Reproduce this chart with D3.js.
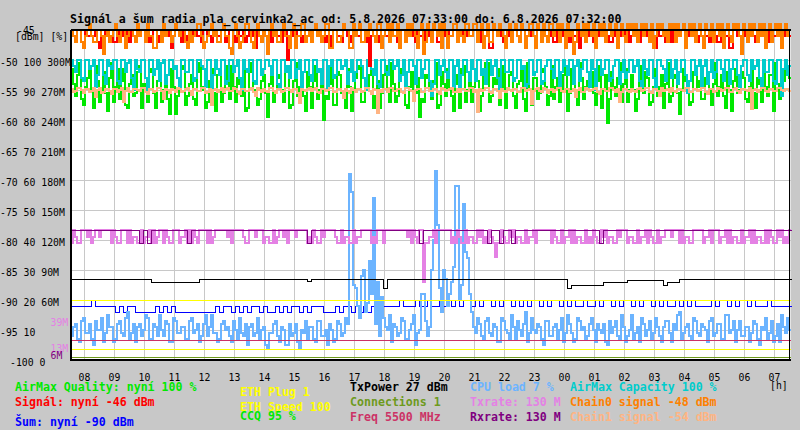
<!DOCTYPE html>
<html><head><meta charset="utf-8">
<script src="https://cdn.jsdelivr.net/npm/d3@7"></script>
<style>
html,body{margin:0;padding:0;background:#c8c8c8;}
svg{display:block;}
text{font-family:"DejaVu Sans Mono",monospace;}
</style></head><body>
<svg id="c" width="800" height="430"></svg>
<script>
// ---------- DATA ----------
const titleText = "Signál a šum radia pla_cervinka2_ac od: 5.8.2026 07:33:00 do: 6.8.2026 07:32:00";
const startTime = "2026-08-05 07:33:00";
const endTime = "2026-08-06 07:32:00";
const fineStep = 4;    // minutes per sample, dense series
const coarseStep = 8;  // minutes per sample, slow series

const hourLabels = ["08","09","10","11","12","13","14","15","16","17","18","19","20","21","22","23","00","01","02","03","04","05","06","07"];
const dbmTicks = [-50,-55,-60,-65,-70,-75,-80,-85,-90,-95,-100];
const pctTicks = [100,90,80,70,60,50,40,30,20,10,0];
const rateTicks = ["300M","270M","240M","210M","180M","150M","120M","90M","60M","",""];
const extraRateTicks = [39,13,6];

// Signal (red) dBm, 4-min samples
const signal = [
-45,-46,-46,-45,-45,-47,-47,-45,-46,-46,-45,-45,-46,-47,-48,-45,-45,-46,-46,-45,
-45,-47,-47,-45,-46,-46,-45,-45,-46,-47,-45,-46,-47,-45,-46,-45,-45,-46,-46,-47,
-46,-45,-45,-46,-47,-45,-45,-46,-46,-45,-48,-46,-45,-45,-46,-47,-45,-46,-47,-45,
-46,-45,-45,-46,-46,-47,-45,-45,-46,-46,-47,-45,-45,-46,-46,-45,-45,-47,-46,-45,
-45,-46,-47,-45,-46,-46,-45,-47,-46,-45,-45,-46,-48,-45,-46,-47,-45,-46,-46,-45,
-47,-45,-45,-46,-46,-47,-45,-45,-50,-46,-45,-46,-46,-45,-45,-47,-46,-45,-45,-46,
-47,-45,-45,-46,-46,-45,-45,-47,-46,-46,-48,-45,-45,-46,-46,-47,-45,-45,-46,-46,
-47,-45,-45,-46,-46,-45,-45,-47,-46,-51,-46,-45,-45,-46,-47,-45,-45,-46,-46,-45,
-45,-46,-46,-47,-47,-45,-45,-46,-46,-45,-45,-46,-47,-45,-46,-46,-48,-45,-45,-46,
-46,-45,-45,-47,-47,-46,-46,-45,-45,-46,-46,-45,-45,-47,-46,-45,-46,-46,-45,-46,
-46,-45,-45,-47,-47,-45,-46,-46,-45,-48,-48,-45,-45,-46,-46,-45,-47,-46,-45,-46,
-47,-45,-45,-46,-46,-45,-45,-47,-46,-45,-46,-46,-48,-45,-45,-46,-46,-45,-45,-46,
-45,-47,-47,-45,-46,-46,-45,-45,-46,-47,-45,-46,-46,-45,-48,-45,-45,-46,-46,-45,
-45,-47,-46,-45,-46,-46,-45,-45,-46,-47,-47,-45,-46,-45,-45,-46,-46,-45,-45,-47,
-46,-45,-45,-47,-47,-45,-46,-46,-45,-45,-46,-48,-48,-45,-46,-46,-45,-47,-46,-45,
-47,-45,-45,-46,-46,-45,-45,-47,-46,-45,-46,-46,-45,-47,-46,-45,-45,-46,-46,-47,
-45,-46,-46,-47,-47,-45,-45,-46,-46,-48,-48,-45,-45,-46,-46,-47,-45,-46,-46,-45,
-45,-46,-47,-45,-46,-46,-45,-47,-47,-45,-45,-46,-46,-45,-46,-47,-45,-46,-46,-46];

// Chain0 signal (orange) dBm, 4-min samples
const chain0 = [
-45,-46,-47,-45,-45,-47,-48,-46,-45,-44,-46,-47,-47,-45,-45,-46,-49,-46,-45,-47,
-46,-45,-44,-46,-47,-45,-45,-48,-46,-45,-45,-46,-47,-44,-46,-45,-45,-47,-44,-46,
-46,-48,-48,-45,-45,-47,-44,-46,-45,-45,-47,-46,-44,-45,-46,-45,-45,-47,-48,-45,
-47,-46,-45,-44,-44,-46,-48,-47,-46,-45,-44,-46,-45,-47,-47,-45,-44,-46,-46,-48,
-49,-45,-44,-46,-48,-47,-46,-44,-44,-45,-47,-48,-45,-44,-46,-47,-45,-46,-49,-45,
-44,-46,-45,-47,-47,-45,-44,-46,-46,-48,-45,-44,-48,-46,-46,-44,-44,-47,-46,-45,
-47,-45,-44,-46,-45,-47,-46,-44,-44,-48,-48,-45,-45,-47,-47,-46,-44,-45,-45,-48,
-48,-44,-46,-45,-44,-47,-47,-45,-46,-44,-45,-46,-47,-44,-44,-48,-46,-45,-44,-47,
-44,-46,-46,-44,-48,-45,-45,-47,-44,-46,-44,-45,-46,-48,-45,-44,-49,-47,-44,-45,
-47,-44,-45,-46,-44,-48,-44,-45,-48,-46,-46,-44,-44,-47,-45,-46,-47,-44,-44,-46,
-46,-44,-44,-47,-45,-44,-48,-46,-44,-47,-47,-44,-45,-46,-44,-45,-46,-48,-45,-44,
-47,-45,-44,-46,-47,-44,-45,-48,-46,-44,-44,-46,-48,-44,-45,-47,-44,-46,-47,-44,
-44,-46,-45,-44,-47,-44,-45,-48,-44,-46,-45,-49,-47,-44,-45,-46,-44,-47,-44,-45,
-46,-44,-48,-45,-44,-46,-44,-47,-45,-44,-46,-45,-44,-48,-45,-44,-46,-47,-44,-45,
-44,-46,-44,-47,-45,-44,-46,-44,-45,-47,-44,-48,-46,-44,-45,-44,-46,-45,-47,-44,
-45,-44,-47,-44,-46,-45,-44,-48,-45,-44,-46,-44,-47,-45,-44,-46,-48,-44,-45,-46,
-44,-47,-45,-44,-46,-44,-48,-45,-44,-46,-47,-44,-45,-44,-46,-49,-44,-45,-47,-44,
-46,-44,-45,-47,-44,-46,-44,-48,-45,-44,-47,-45,-44,-46,-44,-48,-45,-44,-46,-45];

// Chain1 signal (peach) dBm, 4-min samples
const chain1 = [
-54.8,-55.3,-55.2,-54.7,-54.6,-55.0,-55.5,-54.8,-54.9,-55.4,-55.1,-54.6,-56.2,-55.0,-54.7,-55.5,-55.3,-54.9,-54.8,-55.2,
-55.6,-54.8,-54.9,-55.3,-55.0,-54.7,-57.0,-55.1,-54.7,-55.4,-55.4,-54.9,-54.8,-55.0,-55.2,-54.6,-54.6,-55.3,-55.7,-54.9,
-54.9,-55.4,-55.1,-54.7,-54.7,-55.2,-56.5,-54.9,-55.0,-55.5,-54.8,-55.0,-55.4,-54.6,-54.9,-55.3,-55.2,-54.8,-54.6,-55.1,
-55.8,-54.9,-54.9,-55.2,-55.1,-54.7,-54.7,-55.5,-55.3,-54.8,-57.5,-55.0,-54.8,-55.3,-55.0,-54.6,-55.4,-54.9,-54.7,-55.2,
-55.1,-54.7,-54.9,-55.4,-55.6,-54.8,-54.8,-55.2,-55.2,-54.9,-54.6,-55.3,-56.0,-54.7,-55.0,-55.4,-54.8,-55.1,-55.3,-54.6,
-54.7,-55.2,-55.5,-54.9,-54.9,-55.3,-55.1,-54.7,-54.6,-55.0,-55.4,-54.8,-54.8,-55.5,-57.2,-54.9,-55.0,-55.2,-54.9,-54.7,
-55.2,-54.8,-54.7,-55.3,-55.5,-54.9,-54.9,-55.1,-55.0,-54.6,-54.6,-55.4,-55.3,-54.8,-54.8,-55.2,-56.3,-54.9,-55.1,-55.5,
-54.7,-55.0,-55.4,-54.8,-54.9,-55.3,-55.2,-54.7,-54.6,-55.1,-55.6,-54.9,-55.0,-58.8,-55.0,-55.4,-54.8,-54.9,-55.3,-54.7,
-54.7,-55.2,-55.1,-54.8,-54.9,-55.4,-55.5,-54.7,-54.6,-55.0,-55.1,-56.8,-55.0,-54.9,-54.8,-55.3,-55.3,-54.6,-54.7,-55.2,
-55.2,-54.8,-54.9,-55.4,-55.6,-54.7,-54.8,-55.1,-55.0,-54.9,-54.6,-55.3,-55.4,-54.8,-55.4,-54.9,-54.9,-55.2,-55.1,-54.7,
-54.7,-55.3,-55.0,-58.6,-54.8,-55.2,-55.0,-54.7,-54.6,-55.4,-55.5,-54.9,-54.9,-55.1,-56.4,-54.8,-55.1,-55.3,-54.7,-55.0,
-55.2,-54.9,-54.8,-55.3,-55.4,-54.7,-54.6,-55.1,-55.0,-54.8,-57.3,-55.2,-54.9,-54.7,-55.2,-55.4,-54.7,-54.9,-55.5,-55.0,
-54.8,-55.3,-55.0,-54.7,-54.6,-55.2,-55.3,-54.9,-54.9,-55.4,-55.1,-54.8,-56.1,-55.0,-54.7,-55.3,-55.4,-54.6,-54.8,-55.1,
-55.0,-54.8,-54.6,-55.4,-55.6,-54.9,-54.9,-55.2,-55.2,-54.7,-54.7,-55.0,-55.3,-54.8,-57.0,-55.3,-54.8,-54.9,-55.1,-55.4,
-54.9,-55.2,-55.4,-54.8,-54.7,-55.1,-55.0,-54.6,-54.6,-55.3,-55.5,-54.9,-54.8,-55.2,-56.0,-54.7,-55.2,-55.0,-54.9,-55.4,
-54.7,-55.1,-55.3,-54.8,-54.8,-55.0,-55.1,-54.6,-54.6,-55.3,-55.4,-54.9,-54.9,-55.2,-55.0,-54.7,-54.7,-55.4,-55.6,-54.8,
-54.8,-55.3,-55.2,-54.7,-54.9,-55.1,-55.0,-54.6,-54.6,-55.4,-55.3,-54.8,-54.7,-55.2,-55.5,-54.9,-54.9,-55.0,-55.1,-54.7,
-58.2,-55.0,-54.8,-55.3,-55.0,-54.7,-54.6,-55.1,-55.4,-54.9,-54.8,-55.2,-55.1,-54.6,-54.7,-55.0,-55.2,-54.8,-54.9,-55.1];

// AirMax Quality (green) %, 4-min samples
const quality = [
97,92,88,95,99,87,85,91,94,98,90,84,98,93,86,90,96,89,83,94,
99,86,91,97,87,93,97,85,84,92,95,88,89,96,98,84,92,90,86,97,
96,89,84,93,99,86,90,95,87,82,97,91,82,88,94,97,98,85,88,92,
95,87,85,96,99,90,91,84,86,93,97,89,83,95,96,86,89,98,93,87,
98,91,86,94,92,88,97,83,84,96,99,90,90,85,87,93,95,89,81,92,
98,86,89,95,94,90,86,97,97,84,85,93,99,88,91,96,88,83,96,91,
84,93,98,87,90,95,80,88,87,92,99,85,85,96,95,89,89,84,97,91,
83,90,94,97,98,86,86,92,91,95,97,84,88,93,84,89,95,98,90,86,
99,92,86,88,93,97,97,85,84,91,96,89,89,94,81,87,86,95,94,90,
87,93,99,84,85,96,92,88,97,90,88,83,95,92,84,97,98,86,90,94,
86,91,97,93,83,88,95,99,99,86,88,94,92,97,85,90,98,84,90,95,
96,88,84,92,93,97,87,83,99,90,85,94,94,87,89,96,97,91,85,88,
98,87,91,94,86,90,95,98,83,89,97,92,89,85,99,94,87,91,93,96,
96,89,85,93,98,84,90,95,79,87,96,91,88,94,99,86,92,97,86,90,
95,90,83,87,98,93,89,96,94,85,86,91,97,88,91,95,84,92,99,86,
88,94,95,89,82,90,97,93,90,85,86,96,98,91,93,87,87,94,96,90,
85,92,99,88,91,95,88,84,96,90,83,93,97,89,90,96,94,87,86,91,
98,89,84,94,92,86,97,91,88,95,95,83,99,92,87,90,93,97,96,94];

// AirMax Capacity (cyan) %, 4-min samples
const capacity = [
100,98,96,100,100,94,93,100,100,97,98,100,91,95,100,100,95,92,100,98,
97,100,100,93,92,100,100,96,99,100,94,90,100,97,96,100,100,94,90,100,
100,95,97,100,93,99,100,92,95,100,100,97,98,94,91,100,100,96,96,100,
100,93,94,100,100,98,97,91,100,100,89,95,100,97,95,100,100,92,93,100,
100,96,98,100,94,90,100,97,96,100,100,93,92,100,100,95,97,100,100,98,
95,100,100,92,91,100,100,96,98,94,100,100,94,97,100,91,96,100,100,95,
93,100,100,96,97,92,100,100,90,98,100,94,95,100,100,97,98,100,92,96,
100,93,96,100,100,98,94,90,100,100,97,95,100,92,91,100,100,96,95,100,
100,97,98,100,93,95,100,91,96,100,100,98,92,100,100,94,97,100,100,93,
88,92,100,100,95,98,100,96,94,100,100,91,98,100,91,95,100,100,96,93,
100,97,93,100,100,95,97,92,100,100,95,98,100,94,90,100,100,96,96,100,
100,93,94,100,100,97,98,91,92,100,100,95,96,100,100,92,93,98,100,100,
97,94,100,100,91,96,100,98,95,100,100,92,98,100,93,97,100,100,96,91,
100,97,90,100,100,95,97,100,100,93,94,98,100,100,92,96,100,94,96,100,
100,96,98,100,93,91,100,97,95,100,100,94,91,100,100,98,97,93,100,100,
94,97,100,92,96,100,100,95,89,93,100,100,95,98,100,91,98,100,92,96,
100,94,96,100,100,97,93,100,100,92,97,100,100,95,91,98,100,100,95,93,
100,97,98,100,94,91,100,96,96,100,100,93,92,100,100,88,97,100,95,98];

// CPU load (light blue) %, 4-min samples
const cpu = [
8,11,12,7,6,13,14,9,9,12,7,5,13,10,10,14,6,9,15,11,
11,6,7,12,13,9,8,14,16,7,9,12,6,11,12,8,10,15,14,7,
7,12,11,8,15,10,8,13,12,6,6,14,13,9,9,11,11,7,7,13,
14,9,10,12,6,8,12,15,8,11,15,9,9,6,7,12,13,10,11,8,
6,13,10,7,14,9,8,12,5,11,12,8,9,14,7,10,11,5,4,9,
9,12,13,8,6,11,10,5,5,12,8,9,12,6,4,10,9,13,7,11,
11,7,6,13,13,8,8,10,5,12,10,6,7,13,12,8,9,14,12,62,
56,25,24,18,14,28,30,16,19,33,22,54,12,26,8,21,14,11,10,15,
6,12,11,8,9,14,13,7,7,10,12,15,5,9,10,22,22,13,8,11,
30,40,63,45,24,16,30,27,18,22,26,31,58,58,20,25,52,36,34,22,
16,11,9,14,12,8,7,13,14,9,8,12,11,6,6,14,13,10,9,7,
15,11,7,13,10,8,12,16,6,9,14,10,9,12,11,7,5,13,13,8,
8,11,12,7,10,14,6,9,15,12,9,6,7,14,13,10,11,7,8,12,
14,10,6,12,10,9,12,6,5,13,9,11,13,8,7,15,11,6,8,10,
15,7,9,11,6,14,12,8,10,13,7,9,14,11,8,6,11,13,13,9,
6,12,10,15,16,7,9,11,12,8,7,14,13,9,8,12,11,10,6,13,
14,8,9,12,12,7,7,15,15,9,10,13,6,10,13,8,8,11,11,6,
9,13,12,7,5,11,10,14,7,9,13,6,8,12,6,15,11,9,14,10];

// Txrate (violet) Mbit, 4-min samples
const txrate = [
117,130,123,117,117,130,130,130,123,130,117,123,130,130,123,130,130,130,130,130,
117,130,123,117,117,130,130,130,117,130,117,123,123,117,117,130,117,123,123,130,
117,130,117,123,130,130,117,130,123,117,117,130,130,130,117,123,123,130,117,130,
117,130,123,117,130,130,130,130,117,130,117,123,130,130,130,130,130,130,123,130,
117,130,130,130,130,130,123,117,117,130,130,130,123,130,130,130,117,123,123,117,
117,130,117,123,130,130,123,130,117,130,130,130,123,130,130,130,130,130,117,123,
117,130,123,117,117,130,123,130,130,130,130,130,123,117,117,130,117,123,123,117,
117,130,117,123,123,130,130,130,130,130,117,123,117,130,130,130,117,130,130,130,
130,130,130,130,130,130,130,130,123,130,117,130,123,117,130,130,78,117,117,123,
123,130,117,130,130,130,130,130,130,130,117,123,117,130,123,117,117,130,117,123,
123,117,117,130,123,130,117,123,117,130,123,117,103,117,117,130,123,117,117,130,
123,130,117,123,123,117,117,130,117,123,123,130,117,130,130,130,130,130,130,130,
117,130,123,117,117,130,117,123,123,130,117,130,117,123,123,117,117,130,117,123,
117,130,123,117,117,130,123,130,117,123,123,117,117,130,123,130,130,130,117,123,
123,117,117,130,117,123,123,130,117,130,123,117,117,130,117,123,123,130,130,130,
123,130,130,130,117,130,117,123,123,117,117,130,130,130,130,130,117,123,123,130,
117,130,130,130,117,123,123,130,117,130,117,123,123,117,117,130,117,123,123,130,
117,130,117,123,123,117,117,130,117,130,123,117,117,130,123,130,117,123,117,130];

// Noise (blue) dBm, 8-min samples
const noise = [
-91,-91,-91,-91,-91,-90,-91,-91,-91,-91,-91,-92,-91,-92,-91,-91,-92,-92,-92,-92,
-92,-91,-92,-91,-92,-91,-92,-92,-92,-92,-92,-92,-92,-92,-92,-92,-91,-92,-91,-91,
-92,-91,-92,-91,-92,-91,-91,-92,-91,-92,-92,-91,-92,-91,-92,-91,-91,-92,-91,-92,
-91,-91,-91,-92,-92,-92,-91,-92,-91,-91,-92,-91,-92,-91,-92,-91,-92,-91,-91,-91,
-91,-91,-90,-91,-91,-91,-90,-91,-91,-90,-91,-91,-90,-91,-90,-91,-90,-91,-90,-90,
-91,-90,-91,-90,-90,-91,-90,-91,-90,-90,-91,-90,-91,-90,-91,-90,-90,-91,-90,-91,
-90,-90,-91,-90,-91,-90,-91,-91,-90,-91,-91,-90,-91,-90,-90,-91,-90,-91,-90,-90,
-91,-90,-91,-90,-90,-91,-90,-91,-90,-91,-91,-90,-91,-90,-91,-90,-91,-91,-91,-91,
-90,-91,-90,-90,-91,-90,-91,-90,-90,-91,-90,-91,-91,-91,-90,-91,-91,-91,-91,-91];

// Rxrate (purple) Mbit, 8-min samples
const rxrate = [
130,130,130,130,130,130,130,130,130,130,130,130,130,130,130,130,130,117,130,117,
130,130,130,130,130,130,130,130,130,117,130,130,130,130,130,130,130,130,130,130,
130,130,130,130,130,130,130,130,130,130,130,130,130,130,130,130,130,130,130,117,
130,130,130,130,130,130,130,130,130,130,130,130,130,130,130,130,130,130,130,130,
130,130,130,130,130,130,130,117,130,130,130,130,130,130,130,130,130,130,130,130,
130,130,130,130,117,130,130,117,130,130,117,130,130,130,130,130,130,130,130,130,
130,130,130,130,130,130,130,130,130,130,130,130,117,130,130,130,130,130,130,130,
130,130,130,130,130,130,130,130,130,130,130,130,130,130,130,130,130,130,130,130,
130,130,130,130,130,130,130,130,130,130,130,130,130,130,130,130,130,130,130,130];

// TxPower (black) dBm, 8-min samples, drawn on the % scale
const txpower = [
27,27,27,27,27,27,27,27,27,27,27,27,27,27,27,27,27,27,27,27,
26,26,26,26,26,26,26,26,26,26,26,26,27,27,27,27,27,27,27,27,
27,27,27,27,27,27,27,27,27,27,27,27,27,27,27,27,27,27,27,26.5,
27,27,27,27,27,27,27,27,27,27,27,27,27,27,27,27,27,27,24,27,
27,27,27,27,27,27,27,27,27,27,27,27,27,27,27,27,27,27,27,27,
27,27,27,27,27,27,27,27,27,27,27,27,27,27,27,27,27,27,27,27,
27,27,27,27,24,25,25,25,25,25,25,25,25,26,26,26,26,26,26,26.6,
26.6,26.6,26.6,26.6,26.6,26.6,26.6,26.6,25,26,26,26,27,27,27,27,27,27,27,27,
27,27,27,27,27,27,27,27,27,27,27,27,27,27,27,27,27,27,27,27];

// Constant levels (plotted value, scale)
const ethSpeedLevel = 60;   // rate scale
const ethPlugLevel = 11;    // rate scale
const freqLevel = 20;       // rate scale
const connectionsLevel = 1; // % scale

const legendCols = [
  [["AirMax Quality: nyní 100 %","#00e800"],["Signál: nyní -46 dBm","#ff0000"],["Šum: nyní -90 dBm","#0000ff"]],
  [["ETH Plug 1","#ffff00"],["ETH Speed 100","#ffff00"],["CCQ 95 %","#00e800"]],
  [["TxPower 27 dBm","#000000"],["Connections 1","#6e9a1c"],["Freq 5500 MHz","#cc3366"]],
  [["CPU load 7 %","#6cb4ff"],["Txrate: 130 M","#e481e4"],["Rxrate: 130 M","#800080"]],
  [["AirMax Capacity 100 %","#00cccc"],["Chain0 signal -48 dBm","#ff8000"],["Chain1 signal -54 dBm","#ffb482"]]
];

// ---------- CHART ----------
const svg = d3.select("#c");
const L = 71, R = 790.5, T = 30, B = 360;
const parse = d3.timeParse("%Y-%m-%d %H:%M:%S");
const t0 = parse(startTime), t1 = parse(endTime);
const x = d3.scaleTime().domain([t0, t1]).range([L, R]);
const yDbm = d3.scaleLinear().domain([-100, -45]).range([B, T]);
const yPct = d3.scaleLinear().domain([0, 100]).range([B, 60]);
const yRate = d3.scaleLinear().domain([0, 300]).range([B, 60]);

svg.append("rect").attr("x",0).attr("y",0).attr("width",800).attr("height",430).attr("fill","#c8c8c8");
svg.append("rect").attr("x",L).attr("y",T).attr("width",R-L).attr("height",B-T).attr("fill","#ffffff");

// grid
const hours = d3.timeHour.range(d3.timeHour.ceil(t0), t1);
svg.append("g").selectAll("line").data(hours).join("line")
  .attr("x1",d=>Math.floor(x(d))+0.5).attr("x2",d=>Math.floor(x(d))+0.5).attr("y1",T).attr("y2",B)
  .attr("stroke","#c8c8c8").attr("stroke-width",1).attr("shape-rendering","crispEdges");
svg.append("g").selectAll("line").data(dbmTicks.filter(d=>d>-100)).join("line")
  .attr("x1",L).attr("x2",R).attr("y1",d=>yDbm(d)+0.5).attr("y2",d=>yDbm(d)+0.5)
  .attr("stroke","#c8c8c8").attr("stroke-width",1).attr("shape-rendering","crispEdges");

function pts(vals, step){
  const p = vals.map((v,i)=>({t:d3.timeMinute.offset(t0, i*step), v}));
  p.push({t:t1, v:vals[vals.length-1]});
  return p;
}
function drawSeries(vals, step, ys, color, w){
  const off = (w % 2) ? 0.5 : 0;
  svg.append("path").datum(pts(vals, step))
    .attr("d", d3.line().x(d=>Math.round(x(d.t))+off).y(d=>Math.round(ys(d.v))+off).curve(d3.curveStepAfter))
    .attr("fill","none").attr("stroke",color).attr("stroke-width",w).attr("shape-rendering","crispEdges");
}
function drawLevel(v, ys, color){
  svg.append("path").datum([{t:t0,v},{t:t1,v}])
    .attr("d", d3.line().x(d=>x(d.t)).y(d=>Math.round(ys(d.v))+0.5))
    .attr("fill","none").attr("stroke",color).attr("stroke-width",1.2).attr("shape-rendering","crispEdges");
}

drawSeries(quality, fineStep, yPct, "#00e800", 2);
drawSeries(capacity, fineStep, yPct, "#00cccc", 2);
drawSeries(chain1, fineStep, yDbm, "#ffb482", 2);
drawSeries(signal, fineStep, yDbm, "#ff0000", 2);
drawSeries(chain0, fineStep, yDbm, "#ff8000", 2);
drawSeries(noise, coarseStep, yDbm, "#0000ff", 1);
drawSeries(cpu, fineStep, yPct, "#6cb4ff", 2);
drawSeries(txrate, fineStep, yRate, "#e481e4", 2);
drawSeries(rxrate, coarseStep, yRate, "#800080", 1);
drawSeries(txpower, coarseStep, yPct, "#000000", 1);
drawLevel(ethSpeedLevel, yRate, "#ffff00");
drawLevel(ethPlugLevel, yRate, "#ffff00");
drawLevel(freqLevel, yRate, "#cc3366");
drawLevel(connectionsLevel, yPct, "#6e9a1c");

// frame
const frame = svg.append("g").attr("stroke","#000").attr("stroke-width",1.5).attr("shape-rendering","crispEdges");
frame.append("line").attr("x1",L).attr("x2",L).attr("y1",T).attr("y2",B+0.5);
frame.append("line").attr("x1",L).attr("x2",R).attr("y1",B).attr("y2",B);
frame.append("line").attr("x1",L).attr("x2",R).attr("y1",T).attr("y2",T);
frame.append("line").attr("x1",R-1).attr("x2",R-1).attr("y1",T).attr("y2",B);

// title
svg.append("text").attr("x",70).attr("y",22.5).attr("font-size","11.6px").attr("font-weight","bold")
  .attr("fill","#000").text(titleText);

// y labels
svg.append("g").selectAll("text").data(dbmTicks).join("text")
  .attr("x",d=> d === -100 ? 10 : 0)
  .attr("y",d=>yDbm(d)+5.5)
  .attr("font-size","9.8px").attr("fill","#000")
  .text((d,i)=>[String(d), String(pctTicks[i]), rateTicks[i]].filter(s=>s!=="").join(" "));
svg.append("text").attr("x",17).attr("y",yDbm(-45)+3.5).attr("font-size","9.8px").attr("fill","#000").text("-45");
svg.append("text").attr("x",15).attr("y",39.5).attr("font-size","9.8px").attr("fill","#000").text("[dBm] [%]");
const extraColors = ["#e481e4","#e481e4","#800080"];
svg.append("g").selectAll("text").data(extraRateTicks).join("text")
  .attr("x",50.5).attr("y",d=>yRate(d)+5)
  .attr("font-size","9.8px").attr("fill",(d,i)=>extraColors[i]).text(d=>d+"M");

// x labels
svg.append("g").selectAll("text").data(hours).join("text")
  .attr("x",d=>x(d)).attr("y",380.5).attr("text-anchor","middle")
  .attr("font-size","9.8px").attr("fill","#000").text((d,i)=>hourLabels[i]);
svg.append("text").attr("x",770).attr("y",389).attr("font-size","9.8px").attr("fill","#000").text("[h]");

// legend
const colX = [15, 240, 350, 470, 570];
const colY = [[390.5,405.5,426],[396,411,420],[390.5,406,421],[390.5,406,421],[390.5,406,421]];
legendCols.forEach((col,ci)=>{
  col.forEach((item,ri)=>{
    svg.append("text").attr("x",colX[ci]).attr("y",colY[ci][ri])
      .attr("font-size","11.6px").attr("font-weight","bold").attr("fill",item[1]).text(item[0]);
  });
});
</script>
</body></html>
